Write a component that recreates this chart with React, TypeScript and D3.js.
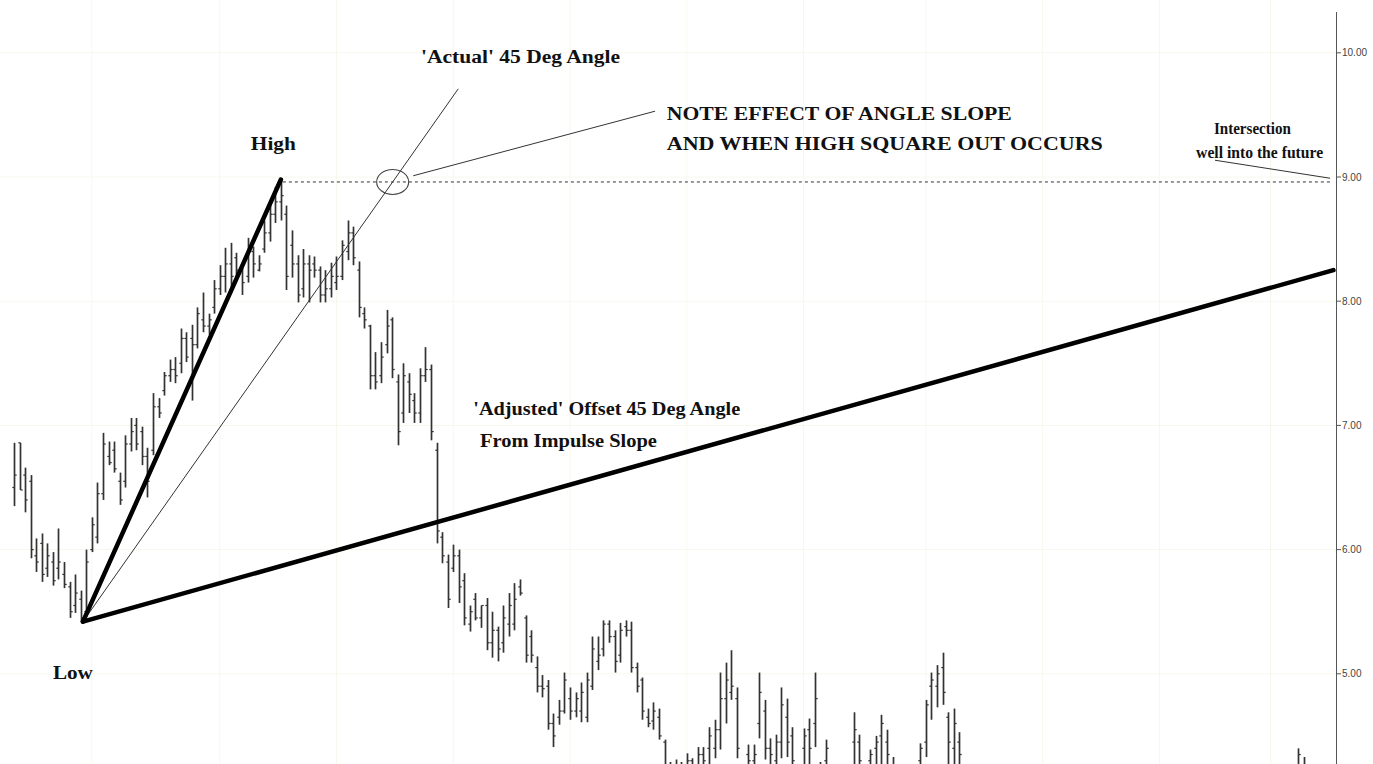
import React from "react";
import * as d3 from "d3";

// ---- OHLC data (bar index = position in array) ----
const highs: (number | null)[] = [
  6.86, 6.86, 6.66, 6.6, 6.09, 6.13, 6.05, 5.98, 6.17, 5.9,
  5.74, 5.8, 5.67, 6.0, 6.26, 6.54, 6.94, 6.87, 6.87, 6.62,
  6.92, 7.06, 7.06, 6.99, 6.82, 7.26, 7.22, 7.43, 7.53, 7.55,
  7.78, 7.75, 7.81, 7.95, 8.07, 7.9, 8.17, 8.29, 8.43, 8.47,
  8.39, 8.31, 8.51, 8.44, 8.37, 8.65, 8.81, 8.92, 8.98, 8.77,
  8.57, 8.37, 8.42, 8.37, 8.36, 8.28, 8.25, 8.31, 8.36, 8.49,
  8.65, 8.6, 8.32, 7.95, 7.81, 7.59, 7.67, 7.93, 7.87, 7.41,
  7.5, 7.42, 7.26, 7.46, 7.63, 7.49, 6.86, 6.14, 5.96, 6.04,
  6.0, 5.81, 5.55, 5.65, 5.55, 5.61, 5.5, 5.38, 5.55, 5.65,
  5.73, 5.76, 5.47, 5.35, 5.14, 4.99, 4.95, 4.68, 4.79, 5.01,
  4.89, 4.85, 4.93, 5.01, 5.3, 5.3, 5.43, 5.43, 5.35, 5.41,
  5.43, 5.42, 5.09, 4.97, 4.72, 4.77, 4.72, 4.47, 4.29, 4.31,
  4.29, 4.36, 4.32, 4.41, 4.41, 4.57, 4.63, 5.01, 5.09, 5.19,
  4.89, null, 4.43, 4.43, 5.01, 4.79, 4.48, 4.51, 4.89, 4.8,
  4.57, null, 4.56, 4.64, 5.01, 4.29, 4.47, null, null, null,
  null, 4.69, 4.51, null, 4.39, 4.5, 4.67, 4.55, 4.33, null,
  null, null, null, 4.44, 4.79, 5.01, 5.07, 5.17, 4.69, 4.72,
  4.53,
];
const lows: (number | null)[] = [
  6.35, 6.48, 6.3, 5.93, 5.82, 5.74, 5.78, 5.71, 5.76, 5.69,
  5.45, 5.49, 5.42, 5.46, 5.98, 6.05, 6.4, 6.68, 6.62, 6.36,
  6.5, 6.79, 6.8, 6.68, 6.42, 6.76, 7.06, 7.24, 7.35, 7.34,
  7.42, 7.51, 7.2, 7.62, 7.75, 7.73, 7.9, 8.05, 8.07, 8.11,
  8.19, 8.05, 8.15, 8.19, 8.24, 8.39, 8.48, 8.63, 8.65, 8.09,
  8.19, 7.99, 8.03, 7.99, 8.19, 7.99, 7.99, 8.03, 8.09, 8.17,
  8.33, 8.29, 7.87, 7.78, 7.29, 7.29, 7.34, 7.58, 7.38, 6.84,
  7.02, 7.1, 7.02, 7.02, 7.35, 6.88, 6.05, 5.89, 5.53, 5.82,
  5.57, 5.39, 5.34, 5.43, 5.37, 5.19, 5.13, 5.1, 5.17, 5.3,
  5.35, 5.63, 5.09, 5.09, 4.85, 4.81, 4.55, 4.41, 4.59, 4.68,
  4.63, 4.65, 4.61, 4.61, 4.87, 5.03, 5.14, 5.25, 5.01, 5.09,
  5.3, 5.01, 4.85, 4.63, 4.57, 4.55, 4.47, 4.19, 4.1, 4.12,
  4.08, 4.1, 4.14, 4.18, 4.2, 4.22, 4.32, 4.39, 4.6, 4.79,
  4.32, null, 4.15, 4.12, 4.48, 4.31, 4.15, 4.18, 4.32, 4.33,
  4.2, null, 4.2, 4.25, 4.41, 4.05, 4.15, null, null, null,
  null, 4.2, 4.18, null, 4.12, 4.16, 4.22, 4.19, 4.1, null,
  null, null, null, 4.18, 4.33, 4.63, 4.73, 4.75, 4.25, 4.22,
  4.2,
];
const opens: (number | null)[] = [
  6.5, 6.86, 6.6, 6.55, 5.95, 6.05, 5.85, 5.9, 5.85, 5.8,
  5.7, 5.55, 5.6, 5.5, 6.0, 6.1, 6.45, 6.75, 6.8, 6.55,
  6.55, 6.85, 7.0, 6.95, 6.75, 6.8, 7.15, 7.28, 7.4, 7.45,
  7.5, 7.7, 7.7, 7.65, 7.85, 7.8, 7.95, 8.1, 8.2, 8.3,
  8.35, 8.25, 8.2, 8.4, 8.25, 8.42, 8.55, 8.7, 8.8, 8.7,
  8.45, 8.3, 8.1, 8.3, 8.3, 8.25, 8.05, 8.1, 8.15, 8.2,
  8.4, 8.55, 8.25, 7.9, 7.8, 7.4, 7.4, 7.65, 7.85, 7.35,
  7.1, 7.35, 7.2, 7.1, 7.4, 7.45, 6.8, 6.1, 5.9, 5.85,
  5.95, 5.75, 5.4, 5.6, 5.45, 5.55, 5.25, 5.35, 5.25, 5.4,
  5.4, 5.7, 5.45, 5.3, 5.05, 4.9, 4.9, 4.6, 4.65, 4.7,
  4.8, 4.7, 4.7, 4.65, 4.9, 5.1, 5.2, 5.4, 5.3, 5.15,
  5.38, 5.35, 5.05, 4.95, 4.65, 4.62, 4.65, 4.45, 4.25, 4.2,
  4.25, 4.2, 4.3, 4.25, 4.35, 4.4, 4.4, 4.55, 4.8, 4.85,
  4.8, null, 4.35, 4.3, 4.6, 4.7, 4.4, 4.3, 4.45, 4.65,
  4.5, null, 4.4, 4.55, 4.6, 4.25, 4.3, null, null, null,
  null, 4.45, 4.45, null, 4.3, 4.4, 4.5, 4.45, 4.2, null,
  null, null, null, 4.3, 4.45, 4.9, 4.9, 5.05, 4.65, 4.4,
  4.45,
];
const closes: (number | null)[] = [
  6.6, 6.48, 6.4, 6.0, 5.9, 5.8, 5.95, 5.75, 5.9, 5.72,
  5.5, 5.65, 5.45, 5.9, 6.2, 6.45, 6.85, 6.7, 6.65, 6.4,
  6.85, 6.95, 6.85, 6.75, 6.55, 7.15, 7.1, 7.4, 7.45, 7.4,
  7.7, 7.55, 7.65, 7.9, 7.8, 7.85, 8.1, 8.2, 8.3, 8.2,
  8.25, 8.15, 8.4, 8.3, 8.3, 8.55, 8.7, 8.8, 8.85, 8.2,
  8.3, 8.05, 8.3, 8.25, 8.25, 8.05, 8.1, 8.2, 8.2, 8.45,
  8.55, 8.35, 7.95, 7.85, 7.4, 7.35, 7.55, 7.8, 7.45, 6.95,
  7.4, 7.25, 7.1, 7.4, 7.45, 6.95, 6.15, 5.95, 5.6, 5.95,
  5.7, 5.45, 5.5, 5.45, 5.55, 5.25, 5.35, 5.2, 5.45, 5.55,
  5.6, 5.65, 5.15, 5.15, 4.9, 4.88, 4.6, 4.5, 4.7, 4.95,
  4.7, 4.8, 4.85, 4.95, 5.2, 5.15, 5.4, 5.3, 5.1, 5.35,
  5.35, 5.05, 4.9, 4.7, 4.6, 4.7, 4.5, 4.25, 4.2, 4.25,
  4.2, 4.3, 4.2, 4.35, 4.3, 4.5, 4.55, 4.8, 4.95, 4.9,
  4.4, null, 4.3, 4.35, 4.85, 4.4, 4.35, 4.45, 4.75, 4.45,
  4.3, null, 4.5, 4.4, 4.8, 4.15, 4.4, null, null, null,
  null, 4.55, 4.3, null, 4.35, 4.45, 4.6, 4.35, 4.25, null,
  null, null, null, 4.4, 4.75, 4.95, 5.0, 4.85, 4.45, 4.6,
  4.35,
];
// last visible bars at the right edge
const tailIdx = [231, 232];
const tailHigh = [4.4, 4.33];
const tailLow = [4.1, 4.05];
const tailOpen = [4.2, 4.2];
const tailClose = [4.35, 4.15];

const priceTicks = [5, 6, 7, 8, 9, 10];
const gridIdx = [14, 37, 58, 79, 100, 121, 142, 164, 185, 206, 226];

// key pivots (bar index, price)
const lowPt = { i: 12.4, p: 5.42 };
const highPt = { i: 48, p: 8.98 };
const actual45End = { i: 79.9, p: 9.71 };
const adjustedEnd = { i: 237.3, p: 8.25 };
const highLevel = 8.96;
const highLevelEnd = 236.7;
const notePointer = [{ i: 71.8, p: 9.01 }, { i: 115.3, p: 9.53 }];
const futurePointer = [{ i: 216.0, p: 9.135 }, { i: 236.7, p: 8.99 }];

const labels = [
  { t: "'Actual' 45 Deg Angle", i: 73.2, p: 9.915, w: 199, s: 18.5 },
  { t: "High", i: 42.6, p: 9.22, w: 45, s: 18.5 },
  { t: "Low", i: 7.0, p: 4.962, w: 40, s: 18.5 },
  { t: "NOTE EFFECT OF ANGLE SLOPE", i: 117.4, p: 9.46, w: 345, s: 18.5 },
  { t: "AND WHEN HIGH SQUARE OUT OCCURS", i: 117.4, p: 9.22, w: 436, s: 18.5 },
  { t: "Intersection", i: 215.8, p: 9.345, w: 77, s: 16.5 },
  { t: "well into the future", i: 212.6, p: 9.155, w: 127, s: 16.5 },
  { t: "'Adjusted' Offset 45 Deg Angle", i: 82.6, p: 7.087, w: 267, s: 18.5 },
  { t: "From Impulse Slope", i: 83.8, p: 6.829, w: 177, s: 18.5 },
];

const W = 1373;
const H = 764;

export default function App() {
  const x = d3.scaleLinear().domain([0, 237.4]).range([14, 1334]);
  const y = d3.scaleLinear().domain([4, 10]).range([798.0, 52.8]);
  const axisX = 1336;

  type Bar = { i: number; h: number; l: number; o: number; c: number };
  const bars: Bar[] = [];
  highs.forEach((h, i) => {
    const l = lows[i];
    const o = opens[i];
    const c = closes[i];
    if (h != null && l != null && o != null && c != null) bars.push({ i, h, l, o, c });
  });
  tailIdx.forEach((i, k) =>
    bars.push({ i, h: tailHigh[k], l: tailLow[k], o: tailOpen[k], c: tailClose[k] })
  );

  const line = d3
    .line<{ i: number; p: number }>()
    .x((d) => x(d.i))
    .y((d) => y(d.p));

  // intersection of the 'actual' 45 deg line with the high level
  const slope = (actual45End.p - lowPt.p) / (actual45End.i - lowPt.i);
  const crossI = lowPt.i + (highLevel - lowPt.p) / slope;

  return (
    <svg
      width={W}
      height={H}
      style={{ position: "fixed", left: 0, top: 0, background: "#fff" }}
    >
      <rect x={0} y={0} width={W} height={H} fill="#fff" />
      {/* faint grid */}
      <g stroke="#f8f7ee" strokeWidth={1}>
        {priceTicks.map((p) => (
          <line key={"h" + p} x1={0} x2={axisX} y1={y(p)} y2={y(p)} />
        ))}
        {gridIdx.map((g) => (
          <line key={"v" + g} x1={x(g)} x2={x(g)} y1={0} y2={H} />
        ))}
      </g>

      {/* OHLC bars */}
      <g stroke="#333">
        {bars.map((b) => {
          const cx = Math.round(x(b.i)) + 0.5;
          return (
            <g key={b.i}>
              <line x1={cx} x2={cx} y1={y(b.h)} y2={y(b.l)} strokeWidth={1.7} />
              <line x1={cx - 2.2} x2={cx} y1={y(b.o)} y2={y(b.o)} strokeWidth={1.2} />
              <line x1={cx} x2={cx + 2.2} y1={y(b.c)} y2={y(b.c)} strokeWidth={1.2} />
            </g>
          );
        })}
      </g>

      {/* dashed high level */}
      <line
        x1={x(highPt.i) + 2}
        x2={x(highLevelEnd)}
        y1={y(highLevel)}
        y2={y(highLevel)}
        stroke="#333"
        strokeWidth={1}
        strokeDasharray="3,3"
      />

      {/* thin 'actual' 45 deg line */}
      <path d={line([lowPt, actual45End]) || ""} stroke="#333" strokeWidth={1} fill="none" />
      {/* thick impulse line */}
      <path d={line([lowPt, highPt]) || ""} stroke="#000" strokeWidth={4.5} fill="none" strokeLinecap="round" />
      {/* thick adjusted line */}
      <path d={line([lowPt, adjustedEnd]) || ""} stroke="#000" strokeWidth={4.5} fill="none" strokeLinecap="round" />

      {/* ellipse at intersection */}
      <ellipse cx={x(crossI)} cy={y(highLevel)} rx={16} ry={12.5} fill="none" stroke="#444" strokeWidth={1.1} />

      {/* pointer lines */}
      <path d={line(notePointer) || ""} stroke="#333" strokeWidth={1} fill="none" />
      <path d={line(futurePointer) || ""} stroke="#333" strokeWidth={1} fill="none" />

      {/* labels */}
      <g fontFamily="'Liberation Serif', 'Times New Roman', serif" fontWeight="bold" fill="#111">
        {labels.map((l) => (
          <text
            key={l.t}
            x={x(l.i)}
            y={y(l.p)}
            fontSize={l.s}
            textLength={l.w}
            lengthAdjust="spacingAndGlyphs"
          >
            {l.t}
          </text>
        ))}
      </g>

      {/* right price axis */}
      <line x1={axisX + 0.5} x2={axisX + 0.5} y1={12} y2={H} stroke="#555" strokeWidth={1} />
      <g fontFamily="'Liberation Sans', Arial, sans-serif" fontSize={10} fill="#444">
        {priceTicks.map((p) => (
          <g key={"t" + p}>
            <line x1={axisX} x2={axisX + 5} y1={y(p)} y2={y(p)} stroke="#555" strokeWidth={1} />
            <text x={axisX + 6} y={y(p)} dy="0.35em">
              {d3.format(".2f")(p)}
            </text>
          </g>
        ))}
      </g>
    </svg>
  );
}
